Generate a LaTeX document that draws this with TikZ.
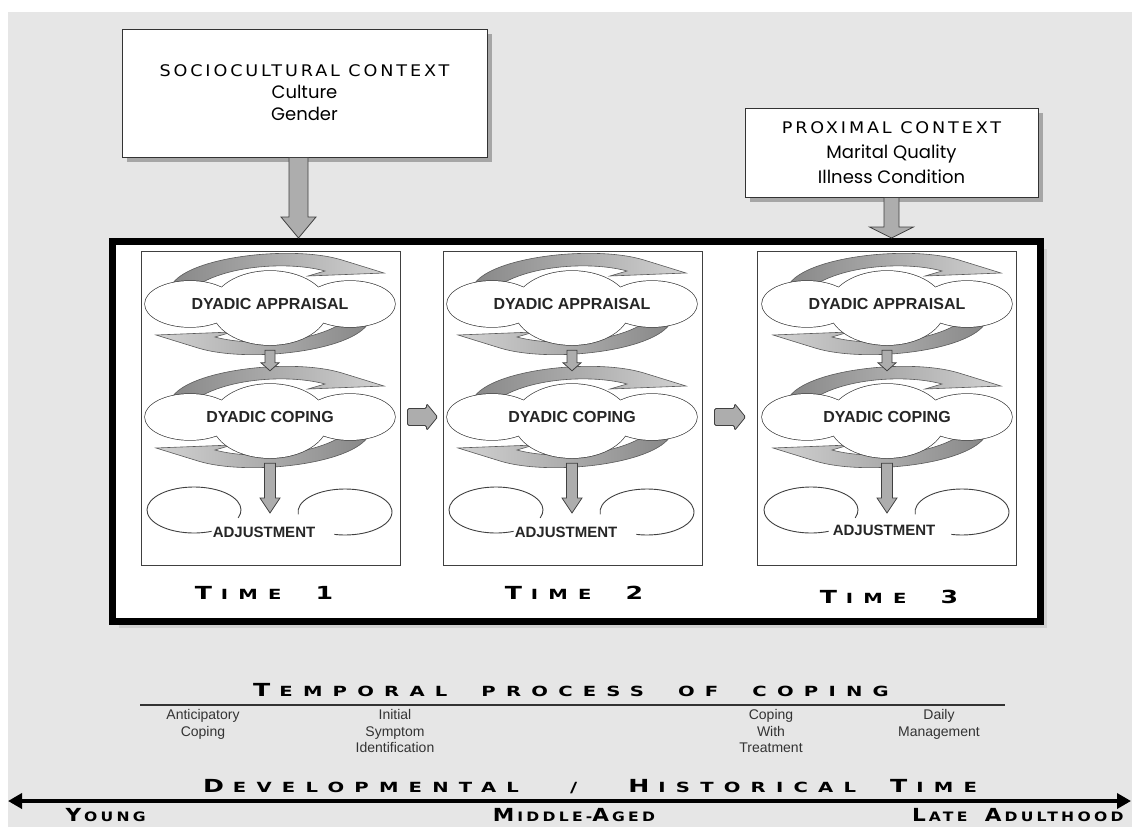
\documentclass[tikz,border=0pt]{standalone}
\usepackage{fontspec}
\usepackage{tikz}
\usetikzlibrary{shadows,calc,arrows.meta}
\setmainfont{Liberation Sans}
\newfontfamily\geofont{Poppins}
\newfontfamily\bankfont[LetterSpace=73, FakeStretch=1.4]{DejaVu Sans}
\newfontfamily\agefont[LetterSpace=25, FakeStretch=1.2]{DejaVu Sans}
\newfontfamily\copperfont[LetterSpace=18, FakeStretch=1.1]{DejaVu Sans}
\definecolor{bggray}{RGB}{230,230,230}
\definecolor{darkband}{RGB}{135,135,135}
\definecolor{lightband}{RGB}{210,210,210}

\newcommand{\capfirst}[1]{{\fontsize{18}{18}\selectfont #1}\kern9pt}
\newcommand{\agecap}[1]{{\fontsize{18}{18}\selectfont #1}\kern3pt}
\newcommand{\bignum}[1]{{\fontsize{18}{18}\selectfont #1}}

% cloud with two turning arrows: name, x, y, text
\newcommand{\dyadcloud}[4]{%
  \begin{scope}[shift={(#2,#3)}]
    \path[cyclearrow, left color=darkband, right color=lightband]
      (-100,-15) .. controls (-92,-46) and (20,-60) .. (72,-44)
      -- (114,-31) -- (38,-28) -- (55,-33)
      .. controls (15,-44) and (-60,-38) .. (-85,-8) -- cycle;
    \path[cyclearrow, left color=lightband, right color=darkband]
      (100,15) .. controls (92,46) and (-20,60) .. (-72,44)
      -- (-114,31) -- (-38,28) -- (-55,33)
      .. controls (-15,44) and (60,38) .. (85,8) -- cycle;
    \path[draw=black!75, line width=1.4pt] (-80,0) ellipse [x radius=45, y radius=23]
      (80,0) ellipse [x radius=45, y radius=23] (0,4) ellipse [x radius=58, y radius=37];
    \path[fill=white] (-80,0) ellipse [x radius=45, y radius=23]
      (80,0) ellipse [x radius=45, y radius=23] (0,4) ellipse [x radius=58, y radius=37];
  \end{scope}
  \node[cloudtext] (#1) at (#2,#3) {#4};}

% block arrow pointing down: from, to, half shaft, half head, head length
\newcommand{\blockdown}[5]{%
  \draw[blockarrow] let \p1=(#1), \p2=(#2) in
    (\x1-#3,\y1) -- (\x1-#3,\y2+#5) -- (\x1-#4,\y2+#5) -- (\x1,\y2)
    -- (\x1+#4,\y2+#5) -- (\x1+#3,\y2+#5) -- (\x1+#3,\y1) -- cycle;}

% block arrow pointing right
\newcommand{\blockright}[5]{%
  \draw[blockarrow, rounded corners=1.5pt] let \p1=(#1), \p2=(#2) in
    (\x1,\y1-#3) -- (\x2-#5,\y1-#3) -- (\x2-#5,\y1-#4) -- (\x2,\y1)
    -- (\x2-#5,\y1+#4) -- (\x2-#5,\y1+#3) -- (\x1,\y1+#3) -- cycle;}

\begin{document}
\begin{tikzpicture}[x=1pt, y=-1pt]
    % Define node styles
    \tikzstyle{ctxbox} = [rectangle, draw=black!80, fill=white, line width=0.8pt, align=center, drop shadow={shadow xshift=5pt, shadow yshift=-5pt, fill=black!35, opacity=1}]
    \tikzstyle{framebox} = [rectangle, draw=black, line width=7pt, fill=white, minimum width=928pt, minimum height=379.5pt, drop shadow={shadow xshift=7pt, shadow yshift=-7pt, fill=black!18, opacity=1}]
    \tikzstyle{panelbox} = [rectangle, draw=black!75, fill=white, line width=0.9pt, minimum width=259pt, minimum height=314pt, inner sep=0pt]
    \tikzstyle{cloudtext} = [minimum width=250pt, minimum height=92pt, inner sep=0pt, text=black!85, font=\bfseries\fontsize{16}{16}\selectfont]
    \tikzstyle{cyclearrow} = [draw=black!65, line width=0.6pt]
    \tikzstyle{blockarrow} = [draw=black!75, fill=black!32, line width=0.8pt]
    \tikzstyle{adjarc} = [draw=black!75, line width=0.9pt]
    \tikzstyle{adjtext} = [text=black!85, font=\bfseries\fontsize{15}{15}\selectfont]
    \tikzstyle{timelabel} = [font=\bankfont\bfseries\fontsize{14}{14}\selectfont]
    \tikzstyle{banner} = [font=\bankfont\bfseries\fontsize{14}{14}\selectfont]
    \tikzstyle{phase} = [align=center, anchor=north, text=black!80, font=\fontsize{14}{16.5}\selectfont]
    \tikzstyle{agelabel} = [font=\agefont\bfseries\fontsize{13}{13}\selectfont]
    \tikzstyle{devarrow} = [line width=3.5pt, {Triangle[length=14pt,width=15pt]}-{Triangle[length=14pt,width=15pt]}]

    \useasboundingbox (0,0) rectangle (1132,827);
    \fill[bggray] (8,12) rectangle (1132,827);

    % Contexts
    \node[ctxbox, minimum width=365pt, minimum height=128pt, font=\fontsize{16}{22}\selectfont] (soc) at (304.5,93)
        {{\copperfont SOCIOCULTURAL CONTEXT}\\{\geofont\fontsize{18}{22}\selectfont Culture}\\{\geofont\fontsize{18}{22}\selectfont Gender}};
    \node[ctxbox, minimum width=293pt, minimum height=89pt, font=\fontsize{16}{25}\selectfont] (prox) at (891.5,152.5)
        {{\copperfont PROXIMAL CONTEXT}\\{\geofont\fontsize{18}{25}\selectfont Marital Quality}\\{\geofont\fontsize{18}{25}\selectfont Illness Condition}};

    % Outer frame
    \node[framebox] (frame) at (576,431.25) {};

    % Time 1
    \node[panelbox] (panel1) at (270.5,408) {};
    \dyadcloud{appr1}{270}{304}{DYADIC APPRAISAL}
    \dyadcloud{cope1}{270}{417}{DYADIC COPING}
    \draw[adjarc] (194,510) ++(68:47 and 23) arc[start angle=68, end angle=380, x radius=47, y radius=23];
    \draw[adjarc] (345,512) ++(174:47 and 23) arc[start angle=174, end angle=463, x radius=47, y radius=23];
    \node[adjtext] (adj1) at (264,532) {ADJUSTMENT};
    \coordinate (adjtip1) at (270,513);
    \node[timelabel] (time1) at (264,593) {\capfirst{T}IME\ \ \bignum{1}};

    % Time 2
    \node[panelbox] (panel2) at (572.5,408) {};
    \dyadcloud{appr2}{572}{304}{DYADIC APPRAISAL}
    \dyadcloud{cope2}{572}{417}{DYADIC COPING}
    \draw[adjarc] (496,510) ++(68:47 and 23) arc[start angle=68, end angle=380, x radius=47, y radius=23];
    \draw[adjarc] (647,512) ++(174:47 and 23) arc[start angle=174, end angle=463, x radius=47, y radius=23];
    \node[adjtext] (adj2) at (566,532) {ADJUSTMENT};
    \coordinate (adjtip2) at (572,513);
    \node[timelabel] (time2) at (574,593) {\capfirst{T}IME\ \ \bignum{2}};

    % Time 3
    \node[panelbox] (panel3) at (886.5,408) {};
    \dyadcloud{appr3}{887}{304}{DYADIC APPRAISAL}
    \dyadcloud{cope3}{887}{417}{DYADIC COPING}
    \draw[adjarc] (811,510) ++(68:47 and 23) arc[start angle=68, end angle=380, x radius=47, y radius=23];
    \draw[adjarc] (962,512) ++(174:47 and 23) arc[start angle=174, end angle=463, x radius=47, y radius=23];
    \node[adjtext] (adj3) at (884,530) {ADJUSTMENT};
    \coordinate (adjtip3) at (887,513);
    \node[timelabel] (time3) at (889,597) {\capfirst{T}IME\ \ \bignum{3}};

    % Arrows - context into frame
    \blockdown{[xshift=-6pt]soc.south}{frame.north}{9.5pt}{17.5pt}{21pt}
    \blockdown{prox.south}{frame.north}{7.5pt}{22pt}{11pt}

    % Arrows - inside panels
    \blockdown{appr1.south}{cope1.north}{5pt}{9pt}{8pt}
    \blockdown{appr2.south}{cope2.north}{5pt}{9pt}{8pt}
    \blockdown{appr3.south}{cope3.north}{5pt}{9pt}{8pt}
    \blockdown{cope1.south}{adjtip1}{5.5pt}{10pt}{15pt}
    \blockdown{cope2.south}{adjtip2}{5.5pt}{10pt}{15pt}
    \blockdown{cope3.south}{adjtip3}{5.5pt}{10pt}{15pt}

    % Arrows - between times
    \blockright{$(panel1.east |- cope1)+(7,0)$}{$(panel2.west |- cope1)+(-5,0)$}{8.5pt}{13.5pt}{11pt}
    \blockright{$(panel2.east |- cope2)+(12,0)$}{$(panel3.west |- cope2)+(-11,0)$}{8.5pt}{13.5pt}{11pt}

    % Temporal process of coping
    \node[banner] (temporal) at (571,690) {\capfirst{T}EMPORAL\ \ PROCESS\ \ OF\ \ COPING};
    \coordinate (tpstart) at (140,705);
    \coordinate (tpend) at (1005,705);
    \draw[black!80, line width=1.2pt] (tpstart) -- (tpend);
    \node[phase] (antic) at (203,706) {Anticipatory\\Coping};
    \node[phase] (initial) at (395,706) {Initial\\Symptom\\Identification};
    \node[phase] (treat) at (771,706) {Coping\\With\\Treatment};
    \node[phase] (daily) at (939,706) {Daily\\Management};

    % Developmental / historical time
    \node[banner] (devtime) at (590,787) {\capfirst{D}EVELOPMENTAL\ \ \ /\ \ \ \capfirst{H}ISTORICAL\ \ \capfirst{T}IME};
    \coordinate (devstart) at (8,801);
    \coordinate (devend) at (1131,801);
    \draw[devarrow] (devstart) -- (devend);
    \node[agelabel, anchor=base west] (young) at (62,821) {\agecap{Y}OUNG};
    \node[agelabel, anchor=base] (middle) at (574,821) {\agecap{M}IDDLE-\agecap{A}GED};
    \node[agelabel, anchor=base east] (late) at (1127,821) {\agecap{L}ATE\ \ \agecap{A}DULTHOOD};

\end{tikzpicture}
\end{document}
